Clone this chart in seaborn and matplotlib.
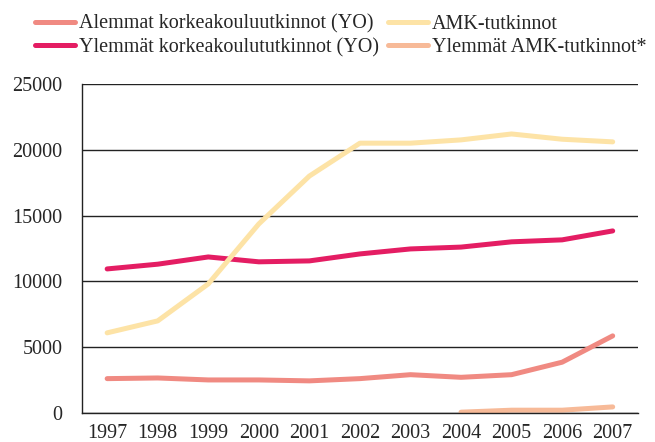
import numpy as np
import pandas as pd
import matplotlib
matplotlib.use("Agg")
import matplotlib.pyplot as plt
import seaborn as sns

# data
years = list(range(1997, 2008))
alemmat_yo = [2600, 2650, 2500, 2500, 2430, 2600, 2900, 2700, 2900, 3850, 5850]
ylemmat_yo = [10940, 11300, 11850, 11480, 11550, 12080, 12460, 12600, 13000, 13150, 13830]
amk = [6080, 6990, 9800, 14360, 18000, 20500, 20500, 20750, 21200, 20800, 20600]
ylemmat_amk_years = [2004, 2005, 2006, 2007]
ylemmat_amk = [50, 200, 200, 450]

names = ["Alemmat korkeakouluutkinnot (YO)", "Ylemmät korkeakoulututkinnot (YO)",
         "AMK-tutkinnot", "Ylemmät AMK-tutkinnot*"]
colors = ["#f08a82", "#e41d63", "#fde3a6", "#f7ba98"]

df = pd.concat([
    pd.DataFrame({"year": years, "value": alemmat_yo, "series": names[0]}),
    pd.DataFrame({"year": years, "value": ylemmat_yo, "series": names[1]}),
    pd.DataFrame({"year": years, "value": amk, "series": names[2]}),
    pd.DataFrame({"year": ylemmat_amk_years, "value": ylemmat_amk, "series": names[3]}),
])

sns.set_style("white")
plt.rcParams["font.family"] = ["Liberation Serif", "DejaVu Serif"]

fig = plt.figure(figsize=(6.55, 4.42), dpi=100)
ax = fig.add_axes([0.125, 0.066, 0.849, 0.744])

sns.lineplot(data=df, x="year", y="value", hue="series", hue_order=names,
             palette=colors, linewidth=3.6, solid_capstyle="round", ax=ax, legend=False)

ax.set_xlim(1996.5, 2007.5)
ax.set_ylim(0, 25000)
ax.set_yticks(range(0, 25001, 5000))
ax.set_xticks(years)
ax.set_xticks(np.arange(1996.5, 2008, 1), minor=True)
ax.tick_params(axis="x", which="major", length=0, pad=8, labelsize=14.5)
ax.tick_params(axis="x", which="minor", length=6, width=1, direction="in", color="#333333")
ax.tick_params(axis="y", length=0, pad=14, labelsize=14.5)
ax.set_xlabel("")
ax.set_ylabel("")
ax.yaxis.grid(True, color="#222222", linewidth=1)
ax.set_axisbelow(True)
for s in ["top", "right"]:
    ax.spines[s].set_visible(False)
for s in ["left", "bottom"]:
    ax.spines[s].set_color("#222222")
    ax.spines[s].set_linewidth(1)

handles = [plt.Line2D([], [], color=c, linewidth=3.6, solid_capstyle="round") for c in colors]
fig.legend(handles, names, loc="upper left", bbox_to_anchor=(0.026, 1.008), ncol=2,
           frameon=False, fontsize=14.5, handlelength=2.0, handletextpad=0.2,
           columnspacing=0.4, labelspacing=0.22)

fig.savefig("out.png", dpi=100)
